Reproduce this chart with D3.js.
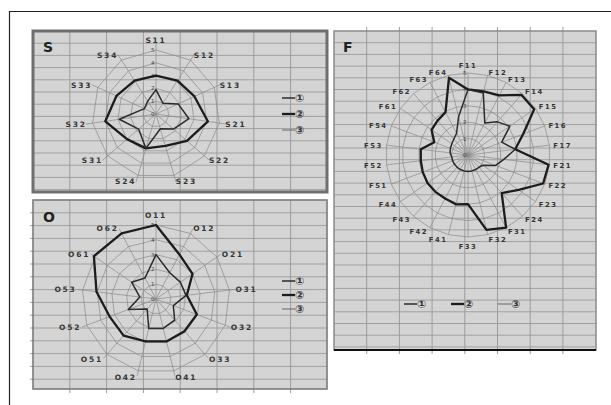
<!DOCTYPE html>
<html>
<head>
<meta charset="utf-8">
<script src="https://cdn.jsdelivr.net/npm/d3@7"></script>
<style>
body { margin: 0; background: #fff; }
text { font-family: "DejaVu Sans", sans-serif; }
</style>
</head>
<body>
<script>
// ---- data ----
var legendNames = ["①", "②", "③"];
var tickValues = [0, 1, 2, 3, 4, 5];

var sAxes = ["S11", "S12", "S13", "S21", "S22", "S23", "S24", "S31", "S32", "S33", "S34"];
var sSeries1 = [1.9, 1.0, 1.9, 2.6, 1.8, 1.2, 2.8, 1.8, 2.9, 1.0, 1.2];
var sSeries2 = [3.0, 3.1, 3.3, 4.1, 3.2, 2.6, 2.8, 3.0, 4.0, 3.4, 3.1];
var sSeries3 = [0, 0, 0, 0, 0, 0, 0, 0, 0, 0, 0];

var oAxes = ["O11", "O12", "O21", "O31", "O32", "O33", "O41", "O42", "O51", "O52", "O53", "O61", "O62"];
var oSeries1 = [3.0, 2.0, 2.0, 2.05, 1.25, 1.9, 2.05, 2.05, 0.9, 2.0, 1.1, 2.0, 1.6];
var oSeries2 = [5.0, 3.4, 3.0, 2.1, 2.95, 2.9, 2.95, 2.95, 3.3, 3.35, 4.05, 5.1, 5.0];
var oSeries3 = [0, 0, 0, 0, 0, 0, 0, 0, 0, 0, 0, 0, 0];

var fAxes = ["F11", "F12", "F13", "F14", "F15", "F16", "F17", "F21", "F22", "F23", "F24", "F31", "F32",
             "F33", "F41", "F42", "F43", "F44", "F51", "F52", "F53", "F54", "F61", "F62", "F63", "F64"];
var fSeries1 = [4.0, 3.9, 2.2, 2.7, 3.1, 2.2, 2.9, 2.2, 1.8, 1.1, 1.0, 1.0, 1.0,
                1.0, 1.0, 1.0, 1.0, 1.0, 1.0, 1.0, 1.1, 1.15, 1.2, 1.3, 1.5, 2.4];
var fSeries2 = [4.0, 4.0, 4.1, 4.9, 4.9, 3.6, 2.9, 4.95, 4.9, 3.75, 3.1, 5.0, 4.7,
                3.0, 3.1, 3.0, 3.0, 3.0, 2.95, 2.9, 2.9, 2.2, 2.7, 2.8, 2.95, 4.85];
var fSeries3 = [0, 0, 0, 0, 0, 0, 0, 0, 0, 0, 0, 0, 0, 0, 0, 0, 0, 0, 0, 0, 0, 0, 0, 0, 0, 0];

// ---- drawing ----
var w = 611, h = 405;
var lineStyles = [
    { width: 1.5, color: "#2b2b2b" },
    { width: 2.3, color: "#1c1c1c" },
    { width: 0.9, color: "#5a5a5a" }
];

var svg = d3.select("body").append("svg")
    .attr("width", w)
    .attr("height", h);

// outer frame (only top/left visible)
svg.append("path")
    .attr("d", "M9.5,405 L9.5,11.5 L611,11.5")
    .attr("fill", "none")
    .attr("stroke", "#222")
    .attr("stroke-width", 1.2);

function drawPanel(x0, y0, x1, y1, vStep, hStep, border) {
    var g = svg.append("g");
    g.append("rect")
        .attr("x", x0).attr("y", y0)
        .attr("width", x1 - x0).attr("height", y1 - y0)
        .attr("fill", "#d4d4d4");

    var vx = d3.range(x0 + vStep, x1 - 2, vStep);
    var hy = d3.range(y0 + hStep, y1 - 2, hStep);

    g.selectAll(".hl").data(hy).enter().append("line")
        .attr("x1", x0 - border.tickL).attr("x2", x1)
        .attr("y1", function(d) { return d; }).attr("y2", function(d) { return d; })
        .attr("stroke", "#a0a0a0").attr("stroke-width", 1);
    g.selectAll(".vl").data(vx).enter().append("line")
        .attr("y1", y0 - border.tickT).attr("y2", y1 + border.tickB)
        .attr("x1", function(d) { return d; }).attr("x2", function(d) { return d; })
        .attr("stroke", "#9c9c9c").attr("stroke-width", 1);

    g.append("rect")
        .attr("x", x0).attr("y", y0)
        .attr("width", x1 - x0).attr("height", y1 - y0)
        .attr("fill", "none")
        .attr("stroke", border.color)
        .attr("stroke-width", border.width);
    if (border.bottom) {
        g.append("line")
            .attr("x1", x0).attr("x2", x1)
            .attr("y1", y1).attr("y2", y1)
            .attr("stroke", border.bottom).attr("stroke-width", 2);
    }
    return g;
}

function drawRadar(cfg) {
    var g = svg.append("g")
        .attr("transform", "translate(" + cfg.cx + "," + cfg.cy + ")");
    var n = cfg.axes.length;
    var angle = d3.scaleLinear().domain([0, n]).range([0, 2 * Math.PI]);
    var r = d3.scaleLinear().domain([0, 5]).range([0, cfg.R]);

    var ring = d3.lineRadial()
        .angle(function(d, i) { return angle(i); })
        .radius(function(d) { return r(d); })
        .curve(d3.curveLinearClosed);

    // rings
    g.selectAll(".ring").data(tickValues.slice(1)).enter().append("path")
        .attr("d", function(t) { return ring(cfg.axes.map(function() { return t; })); })
        .attr("fill", "none")
        .attr("stroke", "#8a8a8a")
        .attr("stroke-width", 0.7);

    // spokes
    g.selectAll(".spoke").data(cfg.axes).enter().append("line")
        .attr("x1", 0).attr("y1", 0)
        .attr("x2", function(d, i) { return Math.sin(angle(i)) * (cfg.R + cfg.spokeExtra); })
        .attr("y2", function(d, i) { return -Math.cos(angle(i)) * (cfg.R + cfg.spokeExtra); })
        .attr("stroke", "#8a8a8a")
        .attr("stroke-width", 0.7);

    // tick labels along the first spoke
    g.selectAll(".tick").data(tickValues).enter().append("text")
        .attr("x", -1.5)
        .attr("y", function(t) { return -r(t) + 2; })
        .attr("text-anchor", "end")
        .attr("font-size", 5.5)
        .attr("fill", "#444")
        .text(function(t) { return t; });

    // axis labels, anchored away from the centre like the spreadsheet does
    g.selectAll(".lab").data(cfg.axes).enter().append("text")
        .attr("x", function(d, i) { return Math.sin(angle(i)) * cfg.labelR; })
        .attr("y", function(d, i) {
            var c = Math.cos(angle(i)), s = Math.sin(angle(i));
            var push = Math.abs(s) < 0.1 ? -c * 4.5 : 0;
            return -c * cfg.labelR + 3 + push;
        })
        .attr("text-anchor", function(d, i) {
            var s = Math.sin(angle(i));
            return s > 0.1 ? "start" : (s < -0.1 ? "end" : "middle");
        })
        .attr("font-size", cfg.labelSize)
        .attr("font-weight", "bold")
        .attr("letter-spacing", cfg.labelSpacing)
        .attr("fill", "#353535")
        .text(function(d) { return d; });

    // series, thin ones last on top of thick
    [1, 0, 2].forEach(function(k) {
        g.append("path")
            .attr("d", ring(cfg.series[k]))
            .attr("fill", "none")
            .attr("stroke", lineStyles[k].color)
            .attr("stroke-width", lineStyles[k].width)
            .attr("stroke-linejoin", "round");
    });
    return g;
}

function drawLegend(x, y, dx, dy) {
    legendNames.forEach(function(name, k) {
        var lx = x + dx * k, ly = y + dy * k;
        svg.append("line")
            .attr("x1", lx).attr("x2", lx + 13)
            .attr("y1", ly).attr("y2", ly)
            .attr("stroke", lineStyles[k].color)
            .attr("stroke-width", lineStyles[k].width);
        svg.append("text")
            .attr("x", lx + 13).attr("y", ly + 4)
            .attr("font-size", 11)
            .attr("font-weight", "bold")
            .attr("fill", "#333")
            .text(name);
    });
}

function panelTitle(x, y, t) {
    svg.append("text")
        .attr("x", x).attr("y", y)
        .attr("font-size", 14)
        .attr("font-weight", "bold")
        .attr("fill", "#222")
        .text(t);
}

// panels
drawPanel(33, 31, 327, 192, 36.8, 12.2, { color: "#6e6e6e", width: 3, tickL: 0, tickT: 0, tickB: 0 });
drawPanel(33, 200, 327, 389, 36.8, 12.8, { color: "#7a7a7a", width: 1.6, tickL: 3, tickT: 0, tickB: 4 });
drawPanel(334, 31, 596, 350, 32.7, 11.7, { color: "#8a8a8a", width: 1.5, tickL: 0, tickT: 4, tickB: 4, bottom: "#111" });

panelTitle(43, 52, "S");
panelTitle(43, 222, "O");
panelTitle(343, 52, "F");

drawRadar({ cx: 156, cy: 114, R: 64, labelR: 70, spokeExtra: 7, labelSize: 7.5, labelSpacing: 1.8,
            axes: sAxes, series: [sSeries1, sSeries2, sSeries3] });
drawRadar({ cx: 156, cy: 299, R: 74, labelR: 80, spokeExtra: 5, labelSize: 7.5, labelSpacing: 1.8,
            axes: oAxes, series: [oSeries1, oSeries2, oSeries3] });
drawRadar({ cx: 468, cy: 155, R: 82, labelR: 86, spokeExtra: 0, labelSize: 6.8, labelSpacing: 1.5,
            axes: fAxes, series: [fSeries1, fSeries2, fSeries3] });

drawLegend(282, 98, 0, 16);
drawLegend(282, 281, 0, 14);
drawLegend(404, 304, 47, 0);
</script>
</body>
</html>
